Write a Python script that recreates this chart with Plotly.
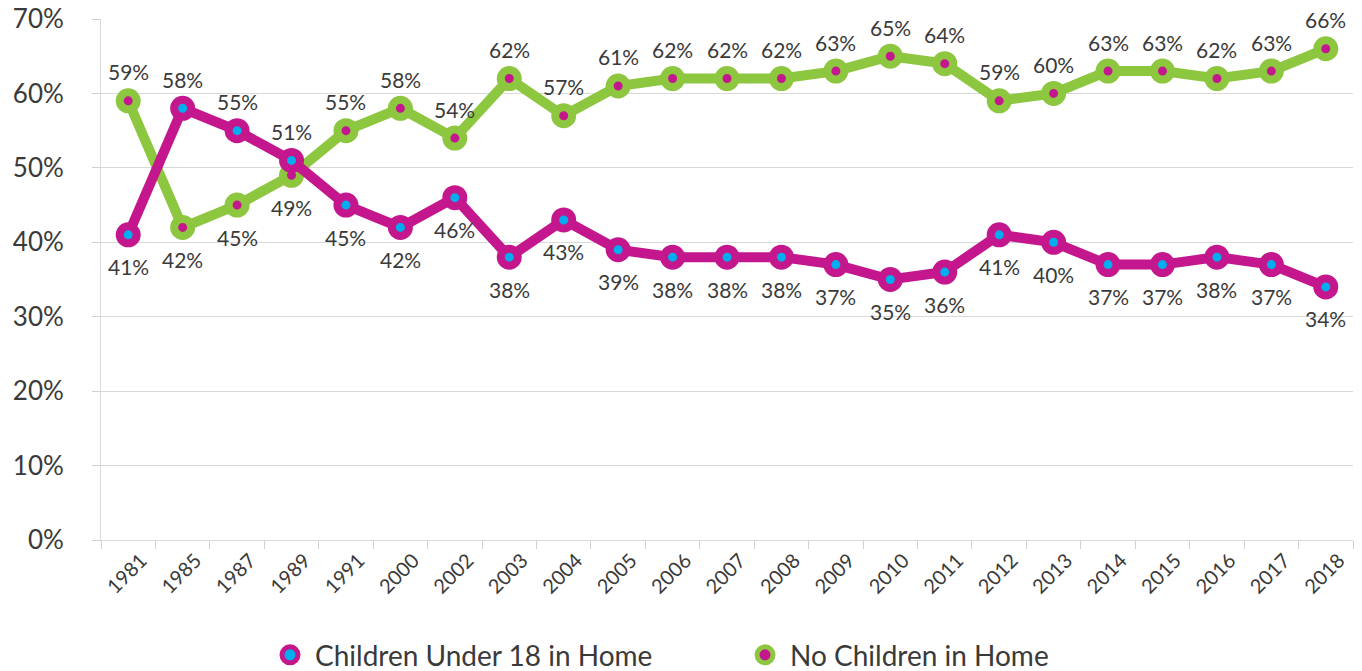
import plotly.graph_objects as go

years = ["1981", "1985", "1987", "1989", "1991", "2000", "2002", "2003", "2004", "2005",
         "2006", "2007", "2008", "2009", "2010", "2011", "2012", "2013", "2014", "2015",
         "2016", "2017", "2018"]
children = [41, 58, 55, 51, 45, 42, 46, 38, 43, 39, 38, 38, 38, 37, 35, 36, 41, 40, 37, 37, 38, 37, 34]
no_children = [59, 42, 45, 49, 55, 58, 54, 62, 57, 61, 62, 62, 62, 63, 65, 64, 59, 60, 63, 63, 62, 63, 66]
y_ticks = [0, 10, 20, 30, 40, 50, 60, 70]

MAGENTA = "#C4178E"
GREEN = "#8DC63F"
CYAN = "#00AEEF"
TEXT = "#3a3a3a"
FONT = "Lato"

fig = go.Figure()

fig.add_trace(go.Scatter(
    x=years, y=no_children, mode="lines+markers", name="No Children in Home",
    line=dict(color=GREEN, width=10),
    marker=dict(size=17, color=MAGENTA, line=dict(color=GREEN, width=8)),
    showlegend=False, hoverinfo="skip"))
fig.add_trace(go.Scatter(
    x=years, y=children, mode="lines+markers", name="Children Under 18 in Home",
    line=dict(color=MAGENTA, width=10),
    marker=dict(size=17, color=CYAN, line=dict(color=MAGENTA, width=8)),
    showlegend=False, hoverinfo="skip"))

# legend-only entries (circle markers)
fig.add_trace(go.Scatter(
    x=[years[0]], y=[None], mode="markers", name="Children Under 18 in Home",
    marker=dict(size=16, color=CYAN, line=dict(color=MAGENTA, width=5)),
    hoverinfo="skip"))
fig.add_trace(go.Scatter(
    x=[years[0]], y=[None], mode="markers", name="No Children in Home",
    marker=dict(size=16, color=MAGENTA, line=dict(color=GREEN, width=5)),
    hoverinfo="skip"))

# data labels: children above while higher than no-children, else below
annotations = []
for i, (c, n) in enumerate(zip(children, no_children)):
    c_above = c > n
    annotations.append(dict(x=i, y=c, text=f"{c}%", showarrow=False,
                            yshift=29 if c_above else -32,
                            font=dict(family=FONT, size=21, color=TEXT)))
    annotations.append(dict(x=i, y=n, text=f"{n}%", showarrow=False,
                            yshift=-32 if c_above else 29,
                            font=dict(family=FONT, size=21, color=TEXT)))

fig.update_layout(
    width=1362, height=671,
    margin=dict(l=101, r=9, t=19, b=131, autoexpand=False),
    paper_bgcolor="white", plot_bgcolor="white",
    font=dict(family=FONT, color=TEXT),
    annotations=annotations,
    legend=dict(orientation="h", x=0.131, xanchor="left", y=-0.221, yanchor="middle",
                font=dict(family=FONT, size=28, color=TEXT), entrywidth=420,
                itemwidth=40, traceorder="normal"),
    xaxis=dict(type="category", categoryorder="array", categoryarray=years,
               range=[-0.5, len(years) - 0.5], automargin=False,
               tickson="boundaries", ticks="outside", ticklen=8, tickcolor="#d0d0d0",
               showline=True, linecolor="#d9d9d9", linewidth=1, showgrid=False,
               tickangle=-45, ticklabelshift=13,
               tickfont=dict(family=FONT, size=20, color=TEXT)),
    yaxis=dict(range=[0, 70], tickvals=y_ticks, ticktext=[f"{v}%" for v in y_ticks],
               automargin=False,
               showgrid=True, gridcolor="#d9d9d9", gridwidth=1,
               showline=True, linecolor="#d9d9d9", linewidth=1,
               ticks="outside", ticklen=8, tickcolor="#d0d0d0",
               ticklabelstandoff=23, zeroline=False,
               tickfont=dict(family=FONT, size=26, color=TEXT)),
)

fig.write_html("out.html", config={"displayModeBar": False},
               post_script="document.body.style.margin='0';document.body.style.overflow='hidden';")
